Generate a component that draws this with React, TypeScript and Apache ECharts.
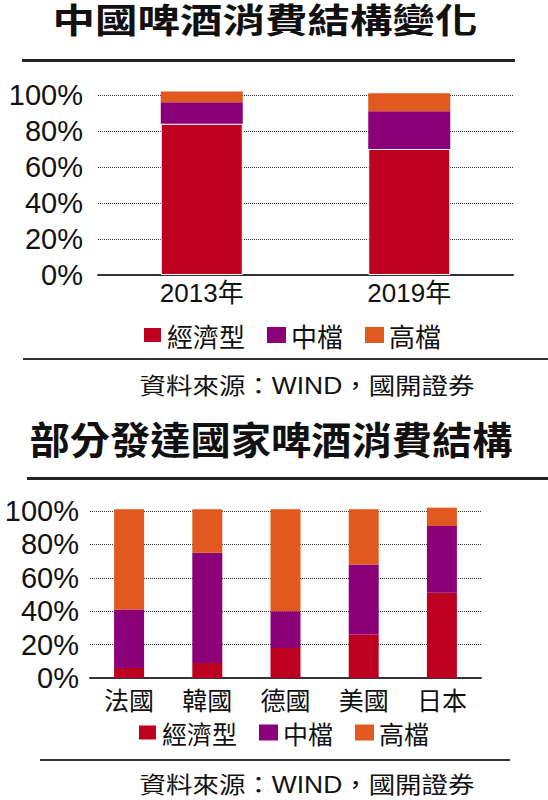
import React, { useEffect, useRef } from "react";
import * as echarts from "echarts";

const years = ["2013年", "2019年"];
const cnEconomy = [84, 70];
const cnMid = [12, 21];
const cnHigh = [6, 10];

const countries = ["法國", "韓國", "德國", "美國", "日本"];
const ctEconomy = [6, 9, 18, 26, 51];
const ctMid = [35, 66, 22, 42, 40];
const ctHigh = [60, 26, 61, 33, 11];

const seriesNames = ["經濟型", "中檔", "高檔"];
const colors = ["#bd0020", "#8b0078", "#e2591f"];

const titleTop = "中國啤酒消費結構變化";
const titleBottom = "部分發達國家啤酒消費結構";
const sourceText = "資料來源：WIND，國開證券";

const CJK = "'Noto Sans CJK TC', 'Noto Sans CJK SC', sans-serif";
const LATIN = "'Liberation Sans', 'Noto Sans CJK TC', sans-serif";

export default function App() {
  const ref = useRef<HTMLDivElement>(null);
  useEffect(() => {
    document.body.style.margin = "0";
    const chart = echarts.init(ref.current!, undefined, { renderer: "svg" });
    const yAxisBase = (gridIndex: number, margin: number) => ({
      type: "value",
      gridIndex,
      min: 0,
      max: 100,
      interval: 20,
      axisLine: { show: false },
      axisTick: { show: false },
      axisLabel: {
        formatter: "{value}%",
        fontSize: 29,
        fontFamily: LATIN,
        color: "#111",
        margin,
      },
      splitLine: {
        lineStyle: { type: "dotted", color: "#333", width: 1 },
      },
    });
    const xAxisBase = (gridIndex: number, data: string[], fontSize: number, fam: string, margin: number) => ({
      type: "category",
      gridIndex,
      data,
      axisLine: { lineStyle: { color: "#333", width: 2 } },
      axisTick: { show: false },
      axisLabel: { fontSize, fontFamily: fam, color: "#111", margin },
    });
    const mkSeries = (
      name: string,
      data: number[],
      color: string,
      idx: number,
      stack: string,
      barWidth: number,
      border: boolean
    ) => ({
      type: "bar",
      name,
      data,
      stack,
      xAxisIndex: idx,
      yAxisIndex: idx,
      barWidth,
      clip: false,
      itemStyle: border
        ? { color, borderColor: "#fff", borderWidth: 1 }
        : { color },
    });
    const legendBase = (left: number, top: number, fontSize: number, gap: number) => ({
      left,
      top,
      orient: "horizontal",
      itemWidth: 19,
      itemHeight: 16,
      itemGap: gap,
      icon: "rect",
      data: seriesNames,
      selectedMode: false,
      textStyle: { fontSize, fontFamily: CJK, color: "#111" },
    });
    const rect = (x: number, y: number, w: number, h: number, fill: string) => ({
      type: "rect",
      shape: { x, y, width: w, height: h },
      style: { fill },
      silent: true,
    });
    const text = (t: string, x: number, y: number, fontSize: number, scaleX: number, weight: string, fam: string) => ({
      type: "text",
      x,
      y,
      scaleX,
      style: {
        text: t,
        fontSize,
        fontWeight: weight,
        fontFamily: fam,
        fill: "#111",
        textAlign: "center",
        textVerticalAlign: "middle",
      },
      silent: true,
    });
    chart.setOption({
      animation: false,
      backgroundColor: "#fff",
      color: colors,
      grid: [
        { left: 98, right: 35, top: 95, bottom: 525, containLabel: false },
        { left: 90, right: 67, top: 511, bottom: 122, containLabel: false },
      ],
      xAxis: [
        xAxisBase(0, years, 26, LATIN, 5),
        xAxisBase(1, countries, 25, CJK, 8),
      ],
      yAxis: [yAxisBase(0, 15), yAxisBase(1, 11)],
      legend: [legendBase(137, 317, 26, 22), legendBase(132, 715, 25, 22)],
      series: [
        mkSeries(seriesNames[0], cnEconomy, colors[0], 0, "cn", 82, true),
        mkSeries(seriesNames[1], cnMid, colors[1], 0, "cn", 82, false),
        mkSeries(seriesNames[2], cnHigh, colors[2], 0, "cn", 82, false),
        mkSeries(seriesNames[0], ctEconomy, colors[0], 1, "ct", 30, false),
        mkSeries(seriesNames[1], ctMid, colors[1], 1, "ct", 30, false),
        mkSeries(seriesNames[2], ctHigh, colors[2], 1, "ct", 30, false),
      ],
      graphic: [
        text(titleTop, 265, 21, 34, 1.25, "bold", LATIN),
        rect(22, 59, 493, 3, "#222"),
        rect(23, 358, 525, 2, "#333"),
        text(sourceText, 307, 386, 23, 1.15, "normal", LATIN),
        text(titleBottom, 271, 441, 38, 1.06, "bold", LATIN),
        rect(27, 477, 521, 3, "#222"),
        rect(40, 759, 470, 2, "#333"),
        text(sourceText, 307, 785, 23, 1.15, "normal", LATIN),
      ],
    });
    return () => chart.dispose();
  }, []);
  return <div ref={ref} style={{ width: 548, height: 800 }} />;
}
